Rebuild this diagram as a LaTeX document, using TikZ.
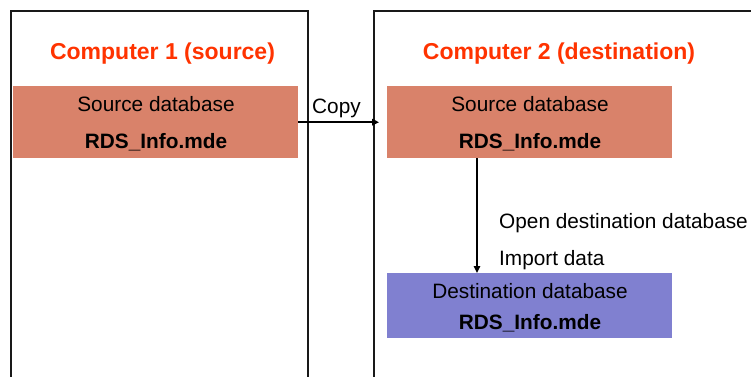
\documentclass[tikz,border=0pt]{standalone}
\usepackage{fontspec}
\setmainfont{Liberation Sans}
\usetikzlibrary{arrows.meta}
\definecolor{titlered}{RGB}{255,51,0}
\definecolor{srcfill}{RGB}{217,130,106}
\definecolor{dstfill}{RGB}{128,128,208}
\begin{document}
\begin{tikzpicture}[x=1pt,y=-1pt,
 panel/.style={draw=black!90,line width=1.7pt,anchor=north west,minimum width=297pt,minimum height=420pt,inner sep=0pt},
 dbbox/.style={anchor=north west,minimum width=285pt,inner sep=0pt},
 txt/.style={font=\fontsize{20.8}{25}\selectfont,inner sep=0pt},
 btxt/.style={font=\fontsize{20.8}{25}\selectfont\bfseries,inner sep=0pt,anchor=base},
 ttl/.style={font=\fontsize{23}{27}\selectfont\bfseries,text=titlered,inner sep=0pt,anchor=base},
 conn/.style={line width=1.5pt,-{Triangle[length=7pt,width=6.5pt]}}]
\useasboundingbox (0,0) rectangle (751,376);
\clip (0,0) rectangle (751,376);
\fill[white] (0,0) rectangle (751,376);
% panels
\node[panel] (p1) at (10,10) {};
\node[panel,minimum width=420pt] (p2) at (373,10) {};
% titles
\node[ttl] (t1) at (162.5,59) {Computer 1 (source)};
\node[ttl] (t2) at (559,59) {Computer 2 (destination)};
% boxes
\node[dbbox,fill=srcfill,minimum height=72pt] (src1) at (13,86) {};
\node[dbbox,fill=srcfill,minimum height=72pt] (src2) at (387,86) {};
\node[dbbox,fill=dstfill,minimum height=65pt] (dst) at (387,273) {};
% box texts
\node[txt,anchor=base] (s1a) at (156,111) {Source database};
\node[btxt] (s1b) at (156,148) {RDS\_Info.mde};
\node[txt,anchor=base] (s2a) at (530,111) {Source database};
\node[btxt] (s2b) at (530,148) {RDS\_Info.mde};
\node[txt,anchor=base] (d1) at (530,298) {Destination database};
\node[btxt] (d2) at (530,329) {RDS\_Info.mde};
% labels
\node[txt,anchor=base west] (copy) at (312,113) {Copy};
\node[txt,anchor=base west] (open) at (499,228) {Open destination database};
\node[txt,anchor=base west] (imp) at (499,265) {Import data};
% connectors
\draw[conn,shorten >=8pt] (src1.east) -- (src2.west);
\draw[conn] ([xshift=90pt]src2.south west) -- ([xshift=90pt]dst.north west);
\end{tikzpicture}
\end{document}
